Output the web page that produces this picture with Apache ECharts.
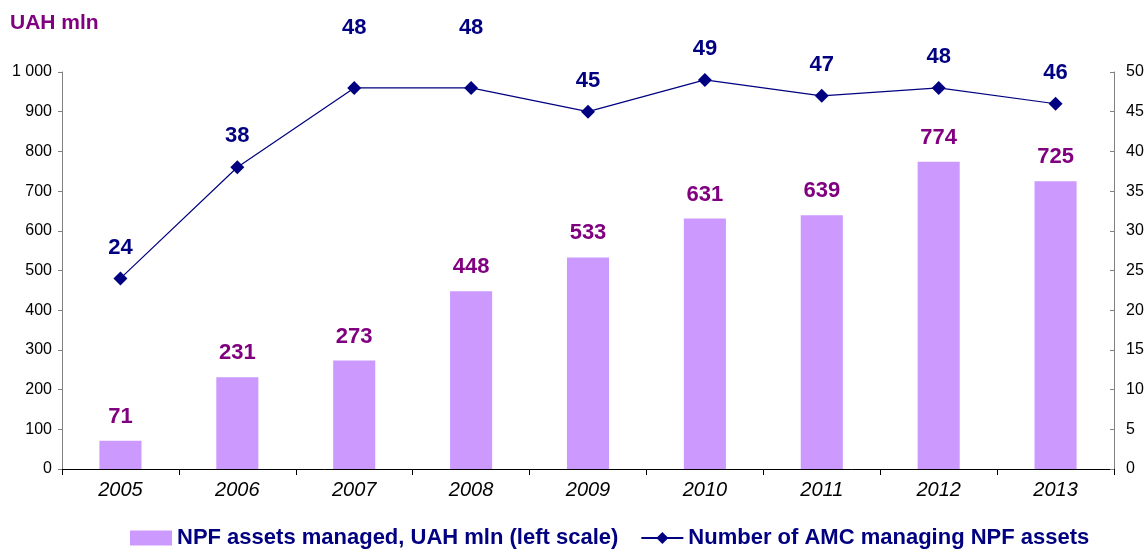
<!DOCTYPE html>
<html>
<head>
<meta charset="utf-8">
<script src="https://cdn.jsdelivr.net/npm/echarts@6/dist/echarts.min.js"></script>
<style>
  html, body { margin: 0; padding: 0; background: #fff; }
  #chart { width: 1148px; height: 550px; }
</style>
</head>
<body>
<div id="chart"></div>
<script>
// Years on the category axis
const years = ['2005', '2006', '2007', '2008', '2009', '2010', '2011', '2012', '2013'];
// NPF assets managed, UAH mln
const npfAssets = [71, 231, 273, 448, 533, 631, 639, 774, 725];
// Number of asset management companies managing NPF assets
const amcCount = [24, 38, 48, 48, 45, 49, 47, 48, 46];

const barName = 'NPF assets managed, UAH mln (left scale)';
const lineName = 'Number of AMC managing NPF assets';

// Labels of the two early peaks sit a bit higher to keep clear of the line
const raisedLabels = new Set([2, 3]);

const fontFamily = 'Arial, "Liberation Sans", sans-serif';
const purple = '#800080';
const navy = '#000080';

const chart = echarts.init(document.getElementById('chart'), null, { renderer: 'canvas' });

chart.setOption({
  animation: false,
  backgroundColor: '#ffffff',
  textStyle: { fontFamily: fontFamily },
  title: {
    text: 'UAH mln',
    left: 5,
    top: 8,
    textStyle: { color: purple, fontSize: 21, fontWeight: 'bold', fontFamily: fontFamily }
  },
  grid: { left: 62, right: 34, top: 72, bottom: 81, containLabel: false },
  legend: {
    top: 522,
    left: 125,
    padding: 5,
    itemGap: 22,
    itemWidth: 42,
    itemHeight: 15,
    textStyle: { color: navy, fontSize: 22, fontWeight: 'bold', fontFamily: fontFamily },
    data: [
      { name: barName, icon: 'rect' },
      { name: lineName }
    ]
  },
  xAxis: {
    type: 'category',
    data: years,
    boundaryGap: true,
    axisLine: { lineStyle: { color: '#000000', width: 1 } },
    axisTick: { show: true, interval: 0, length: 6, lineStyle: { color: '#000000' } },
    axisLabel: {
      color: '#000000', fontSize: 20, fontStyle: 'italic', margin: 11, fontFamily: fontFamily
    },
    splitLine: { show: false }
  },
  yAxis: [
    {
      type: 'value',
      min: 0, max: 1000, interval: 100,
      axisLine: { show: true, lineStyle: { color: '#808080' } },
      axisTick: { show: true, length: 4, lineStyle: { color: '#808080' } },
      splitLine: { show: false },
      axisLabel: {
        color: '#000000', fontSize: 16, margin: 10, fontFamily: fontFamily,
        formatter: v => String(v).replace(/\B(?=(\d{3})+(?!\d))/g, ' ')
      }
    },
    {
      type: 'value',
      min: 0, max: 50, interval: 5,
      position: 'right',
      axisLine: { show: true, lineStyle: { color: '#808080' } },
      axisTick: { show: true, length: 4, inside: true, lineStyle: { color: '#808080' } },
      splitLine: { show: false },
      axisLabel: { color: '#000000', fontSize: 16, margin: 12, fontFamily: fontFamily }
    }
  ],
  series: [
    {
      name: barName,
      type: 'bar',
      yAxisIndex: 0,
      z: 2,
      data: npfAssets,
      barWidth: '36%',
      itemStyle: { color: '#CC99FF' },
      label: {
        show: true, position: 'top', distance: 13,
        color: purple, fontSize: 22, fontWeight: 'bold', fontFamily: fontFamily
      }
    },
    {
      name: lineName,
      type: 'line',
      yAxisIndex: 1,
      z: 3,
      data: amcCount.map((v, i) => raisedLabels.has(i)
        ? { value: v, label: { distance: 42 } }
        : v),
      symbol: 'diamond',
      symbolSize: 14,
      lineStyle: { color: navy, width: 1.2 },
      itemStyle: { color: navy },
      label: {
        show: true, position: 'top', distance: 13,
        color: navy, fontSize: 22, fontWeight: 'bold', fontFamily: fontFamily
      }
    }
  ]
});
</script>
</body>
</html>
